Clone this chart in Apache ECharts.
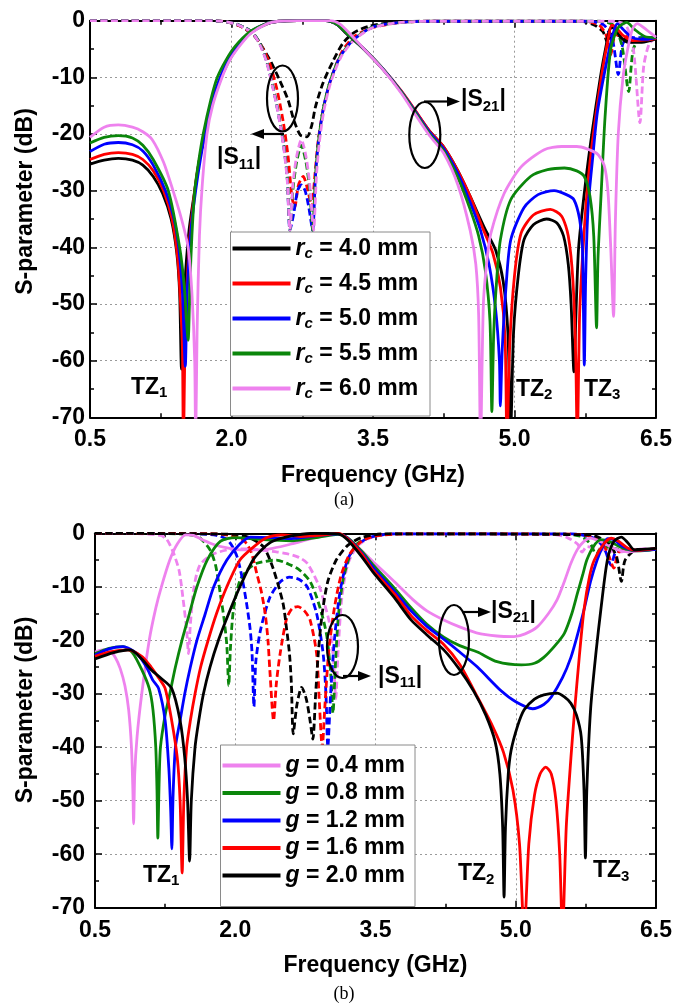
<!DOCTYPE html>
<html><head><meta charset="utf-8">
<script src="https://cdn.jsdelivr.net/npm/echarts/dist/echarts.min.js"></script>
<style>html,body{margin:0;padding:0;background:#fff}#c{width:688px;height:1007px}</style>
</head><body><div id="c"></div>
<script>
// ---------------- DATA ----------------
const xTickLabels = ['0.5', '2.0', '3.5', '5.0', '6.5'];
const rcLabels = ['4.0 mm', '4.5 mm', '5.0 mm', '5.5 mm', '6.0 mm'];
const gLabels = ['0.4 mm', '0.8 mm', '1.2 mm', '1.6 mm', '2.0 mm'];

// (a) |S21| for r_c
const s21_rc40 = [[0.5,-25.3],[0.65,-24.6],[0.8,-24.3],[0.95,-24.6],[1.06,-25.5],[1.17,-27.5],[1.27,-30.5],[1.36,-35],[1.42,-41],[1.45,-48],[1.47,-61.5],[1.5,-48],[1.55,-37],[1.61,-30],[1.66,-24.5],[1.72,-20],[1.8,-14.5],[1.88,-10.5],[1.96,-7.5],[2.06,-4.8],[2.2,-2.2],[2.37,-0.6],[2.5,-0.1],[2.7,0],[3.0,0],[3.12,-0.7],[3.22,-2.3],[3.4,-5],[3.6,-8.5],[3.8,-12.5],[3.95,-16],[4.1,-19.5],[4.25,-22.3],[4.4,-26.5],[4.53,-31],[4.68,-36.5],[4.8,-40.5],[4.88,-46],[4.93,-55],[4.96,-72],[4.99,-55],[5.04,-45],[5.1,-38.7],[5.2,-36],[5.34,-35],[5.45,-35.7],[5.52,-38],[5.57,-43],[5.6,-50],[5.63,-62],[5.655,-50],[5.68,-40],[5.75,-29],[5.82,-20],[5.91,-10],[5.97,-4.5],[6.01,-1.5],[6.05,-1.2],[6.12,-2.8],[6.2,-3.8],[6.35,-3.8],[6.5,-3.2]];
const s21_rc45 = [[0.5,-24.5],[0.65,-23.6],[0.8,-23.3],[0.95,-23.6],[1.06,-24.5],[1.17,-26.5],[1.28,-30],[1.37,-35],[1.43,-42],[1.46,-50],[1.48,-58],[1.49,-75],[1.51,-55],[1.55,-40],[1.61,-30],[1.66,-24.5],[1.72,-20],[1.8,-14.2],[1.88,-10.3],[1.96,-7.3],[2.06,-4.6],[2.2,-2.1],[2.37,-0.5],[2.5,-0.1],[2.7,0],[3.0,0],[3.12,-0.7],[3.22,-2.2],[3.4,-4.9],[3.6,-8.4],[3.8,-12.4],[3.95,-15.9],[4.1,-19.5],[4.25,-22.3],[4.4,-26.5],[4.53,-31],[4.66,-36.5],[4.77,-41],[4.85,-47],[4.9,-56],[4.92,-75],[4.95,-57],[5.0,-45],[5.07,-37.5],[5.2,-34.3],[5.38,-33.3],[5.5,-34.5],[5.57,-38],[5.62,-46],[5.65,-60],[5.665,-75],[5.69,-52],[5.72,-42],[5.76,-32],[5.8,-25],[5.86,-17],[5.93,-9],[5.99,-3.5],[6.03,-0.8],[6.08,-1.3],[6.15,-2.6],[6.25,-3.5],[6.4,-3.4],[6.5,-3.1]];
const s21_rc50 = [[0.5,-23.1],[0.65,-21.8],[0.8,-21.5],[0.95,-21.9],[1.06,-23],[1.17,-25.5],[1.3,-30],[1.39,-35],[1.44,-40],[1.48,-48],[1.51,-61],[1.53,-48],[1.57,-37],[1.62,-30],[1.67,-24.5],[1.72,-20],[1.8,-14],[1.88,-10],[1.96,-7.2],[2.06,-4.6],[2.2,-2],[2.37,-0.5],[2.5,-0.1],[2.7,0],[3.0,0],[3.12,-0.7],[3.22,-2.2],[3.4,-4.9],[3.6,-8.4],[3.8,-12.5],[3.95,-16.1],[4.1,-19.7],[4.25,-22.6],[4.4,-27],[4.53,-32.1],[4.64,-37],[4.73,-43],[4.8,-51],[4.84,-60],[4.85,-68],[4.87,-58],[4.91,-47],[4.96,-38.7],[5.1,-33],[5.25,-30.7],[5.42,-30],[5.55,-30.7],[5.63,-31.6],[5.69,-35],[5.72,-40],[5.74,-60.8],[5.755,-45],[5.78,-33],[5.83,-24],[5.88,-16],[5.98,-7],[6.05,-2],[6.09,-0.5],[6.15,-1.5],[6.25,-3],[6.4,-3.3],[6.5,-3]];
const s21_rc55 = [[0.5,-21.6],[0.65,-20.6],[0.8,-20.3],[0.95,-20.7],[1.06,-22],[1.17,-24.5],[1.33,-30],[1.45,-40],[1.5,-47],[1.54,-56.4],[1.56,-46],[1.58,-38],[1.61,-30],[1.65,-25],[1.7,-20],[1.78,-14],[1.85,-10],[1.94,-7],[2.04,-4.5],[2.2,-1.9],[2.37,-0.5],[2.5,-0.1],[2.7,0],[3.0,0],[3.12,-0.7],[3.22,-2.2],[3.4,-4.9],[3.6,-8.4],[3.8,-12.6],[3.95,-16.3],[4.1,-20],[4.25,-23],[4.4,-27.7],[4.53,-33.3],[4.62,-38],[4.69,-44],[4.74,-53],[4.76,-69],[4.78,-55],[4.81,-46],[4.85,-38.7],[4.96,-31.6],[5.17,-27.5],[5.35,-26.3],[5.53,-26],[5.66,-26.5],[5.74,-27.5],[5.8,-31],[5.84,-38],[5.87,-54.2],[5.885,-42],[5.92,-30],[5.96,-17],[6.02,-5],[6.1,-1.2],[6.19,-0.3],[6.27,-1.5],[6.38,-2.8],[6.5,-3]];
const s21_rc60 = [[0.5,-20.6],[0.65,-18.8],[0.8,-18.4],[0.95,-18.8],[1.06,-19.6],[1.16,-21],[1.28,-25],[1.38,-30],[1.47,-35],[1.54,-40],[1.58,-48],[1.61,-60],[1.62,-75],[1.635,-55],[1.66,-38],[1.69,-29],[1.74,-20],[1.8,-15],[1.9,-10],[1.98,-7],[2.08,-4.6],[2.2,-2.3],[2.37,-0.6],[2.5,-0.1],[2.7,0],[3.05,0],[3.15,-0.6],[3.25,-2.2],[3.4,-4.9],[3.6,-8.5],[3.8,-12.8],[3.95,-16.6],[4.1,-20.3],[4.25,-23.4],[4.4,-29],[4.53,-37],[4.59,-43],[4.62,-52],[4.64,-75],[4.67,-50],[4.71,-42],[4.75,-37.5],[4.89,-30.5],[5.07,-25.8],[5.31,-22.8],[5.5,-22.2],[5.66,-22.2],[5.87,-23.4],[5.95,-25.5],[5.99,-30],[6.02,-40],[6.05,-52.2],[6.07,-35],[6.1,-20],[6.15,-10],[6.2,-5],[6.25,-1.5],[6.3,-0.5],[6.4,-1.6],[6.5,-2.9]];

// (a) |S11| for r_c
const s11_rc40 = [[0.5,0],[1.8,0],[1.95,-0.2],[2.1,-1],[2.23,-2.5],[2.3,-4],[2.41,-7],[2.51,-10.5],[2.6,-14],[2.66,-17.5],[2.73,-20.2],[2.8,-20.5],[2.85,-18.5],[2.89,-15.2],[2.97,-11],[3.08,-7],[3.18,-4],[3.29,-2.2],[3.45,-1],[3.7,-0.3],[4.0,-0.1],[5.7,-0.1],[5.85,-0.8],[5.94,-2],[5.99,-4],[6.04,-2],[6.12,-2.8],[6.25,-3.6],[6.5,-3.2]];
const s11_rc45 = [[0.5,0],[1.8,0],[1.95,-0.2],[2.1,-1],[2.23,-2.4],[2.3,-3.9],[2.4,-7.3],[2.48,-12],[2.55,-18],[2.6,-24],[2.64,-31],[2.67,-33],[2.71,-29],[2.76,-27.5],[2.81,-30],[2.85,-33],[2.88,-28],[2.92,-21],[2.98,-15],[3.06,-10],[3.17,-5.5],[3.3,-2.8],[3.5,-1.2],[3.8,-0.3],[4.1,-0.1],[5.75,-0.1],[5.9,-0.8],[5.97,-2.5],[6.02,-6],[6.07,-2.5],[6.15,-2.6],[6.3,-3.4],[6.5,-3.1]];
const s11_rc50 = [[0.5,0],[1.8,0],[1.9,-0.1],[2.05,-0.6],[2.15,-1.3],[2.23,-2.2],[2.3,-4],[2.37,-7],[2.44,-11.7],[2.49,-15.8],[2.55,-21.6],[2.59,-27.5],[2.62,-37],[2.66,-34],[2.7,-30],[2.74,-29],[2.78,-30],[2.82,-33],[2.86,-37],[2.89,-27.5],[2.92,-21.6],[2.97,-15.8],[3.04,-11],[3.15,-6.4],[3.29,-3.4],[3.5,-1.1],[3.8,-0.3],[4.1,-0.1],[5.8,-0.1],[5.95,-0.8],[6.04,-3.5],[6.1,-9.5],[6.15,-4],[6.25,-3],[6.5,-3]];
const s11_rc55 = [[0.5,0],[1.8,0],[1.9,-0.1],[2.05,-0.6],[2.15,-1.3],[2.23,-2.2],[2.3,-4],[2.37,-7],[2.44,-11.7],[2.49,-15.8],[2.55,-21.6],[2.59,-27.5],[2.62,-37],[2.65,-30],[2.69,-25],[2.74,-22],[2.79,-25],[2.83,-30],[2.86,-37],[2.89,-27.5],[2.92,-21.6],[2.97,-15.8],[3.04,-11],[3.15,-6.4],[3.29,-3.4],[3.5,-1.1],[3.8,-0.3],[4.1,-0.1],[5.9,-0.1],[6.05,-0.8],[6.14,-4.5],[6.21,-12.5],[6.26,-5],[6.35,-3],[6.5,-3]];
const s11_rc60 = [[0.5,0],[1.8,0],[1.9,-0.1],[2.05,-0.6],[2.15,-1.4],[2.23,-2.3],[2.3,-4.2],[2.37,-7.2],[2.44,-12],[2.49,-16],[2.55,-22],[2.59,-28],[2.62,-37],[2.65,-29],[2.69,-24],[2.74,-21],[2.79,-24],[2.83,-29],[2.87,-37],[2.9,-27.5],[2.93,-21.6],[2.98,-15.8],[3.05,-11],[3.16,-6.4],[3.3,-3.4],[3.5,-1.2],[3.8,-0.3],[4.1,-0.1],[6.05,-0.1],[6.18,-0.8],[6.26,-5],[6.33,-18],[6.37,-8],[6.43,-4],[6.5,-3]];

// (b) |S21| for g
const s21_g04 = [[0.5,-22.2],[0.58,-21.8],[0.66,-22],[0.72,-23.3],[0.77,-25.3],[0.82,-28.5],[0.86,-33],[0.89,-40],[0.905,-48],[0.913,-54.3],[0.925,-45],[0.95,-38],[1.0,-30],[1.08,-20],[1.15,-14],[1.21,-10],[1.3,-5],[1.38,-2],[1.47,-0.3],[1.55,-0.4],[1.65,-1.2],[1.77,-2.1],[1.9,-2.7],[2.05,-3.1],[2.25,-3.1],[2.4,-2.8],[2.6,-2],[2.83,-0.9],[3.0,-0.3],[3.12,-0.2],[3.22,-1.2],[3.35,-3.2],[3.48,-5.4],[3.7,-9],[3.9,-12.4],[4.05,-14.5],[4.23,-16.2],[4.4,-17.5],[4.58,-18.6],[4.8,-19.2],[4.98,-19.3],[5.1,-18.8],[5.23,-17.5],[5.35,-15],[5.44,-12.5],[5.52,-9],[5.59,-5.6],[5.66,-3],[5.73,-1.5],[5.8,-0.9],[5.9,-1.5],[6.05,-2.8],[6.2,-3.5],[6.35,-3.2],[6.5,-2.9]];
const s21_g08 = [[0.5,-22.5],[0.65,-21.5],[0.8,-21.2],[0.9,-22.3],[1.0,-25.5],[1.08,-29],[1.12,-33],[1.15,-40],[1.163,-48],[1.172,-57],[1.185,-47],[1.2,-40],[1.25,-34],[1.3,-30],[1.36,-25],[1.43,-20],[1.51,-15],[1.59,-10],[1.7,-5],[1.84,-1.5],[2.0,-0.8],[2.3,-1.2],[2.6,-1.4],[2.9,-0.7],[3.1,-0.2],[3.2,-0.8],[3.35,-3.3],[3.48,-6],[3.7,-10.2],[3.88,-13.9],[4.05,-17],[4.23,-19.4],[4.4,-21],[4.59,-22.2],[4.8,-24],[5.06,-24.6],[5.2,-24.3],[5.3,-23.2],[5.42,-21],[5.52,-18.7],[5.6,-15],[5.66,-11.2],[5.72,-7.5],[5.76,-5],[5.83,-2.5],[5.91,-1.2],[6.0,-1.5],[6.15,-2.8],[6.3,-3.3],[6.5,-3]];
const s21_g12 = [[0.5,-22.8],[0.65,-21.6],[0.8,-21.2],[0.95,-22.5],[1.05,-25],[1.12,-27.5],[1.18,-29],[1.25,-35],[1.29,-44],[1.31,-52],[1.322,-59],[1.335,-49],[1.36,-40],[1.41,-35],[1.46,-30],[1.52,-25],[1.59,-20],[1.68,-15],[1.77,-10],[1.91,-5],[2.05,-2],[2.16,-0.7],[2.4,-0.8],[2.6,-1],[2.85,-0.5],[3.1,-0.1],[3.2,-0.9],[3.35,-3.6],[3.48,-6.5],[3.7,-10.8],[3.88,-14.5],[4.05,-17.4],[4.23,-19.8],[4.4,-22.2],[4.59,-25],[4.84,-29.4],[5.0,-31.5],[5.18,-32.8],[5.3,-32],[5.38,-30.6],[5.5,-27],[5.59,-23.2],[5.66,-19],[5.73,-14.3],[5.8,-9],[5.87,-5],[5.93,-2.5],[5.98,-1],[6.05,-1.2],[6.15,-2.5],[6.3,-3.2],[6.5,-3]];
const s21_g16 = [[0.5,-23],[0.65,-22.2],[0.85,-21.8],[1.0,-23],[1.1,-25],[1.18,-27],[1.25,-29],[1.32,-35],[1.38,-42],[1.41,-50],[1.432,-63.5],[1.45,-50],[1.48,-40],[1.52,-35],[1.57,-30],[1.63,-25],[1.71,-20],[1.8,-15],[1.91,-10],[2.05,-5],[2.2,-2.5],[2.34,-0.8],[2.5,-0.3],[2.7,-0.6],[2.9,-0.4],[3.1,0],[3.2,-1],[3.35,-3.8],[3.48,-7],[3.7,-11.3],[3.88,-15.4],[4.05,-18.2],[4.23,-20.8],[4.4,-24.5],[4.59,-30.6],[4.75,-36],[4.87,-41],[4.97,-48],[5.04,-58],[5.09,-75],[5.14,-58],[5.2,-49],[5.26,-45],[5.32,-43.7],[5.38,-45],[5.43,-50],[5.47,-60],[5.5,-75],[5.54,-55],[5.59,-42],[5.63,-33],[5.68,-23],[5.73,-14.3],[5.79,-8],[5.84,-5],[5.94,-2],[6.02,-0.9],[6.1,-1.5],[6.2,-2.8],[6.3,-3.2],[6.5,-2.8]];
const s21_g20 = [[0.5,-23.5],[0.7,-22.3],[0.88,-21.8],[1.0,-23.5],[1.1,-25.5],[1.2,-27],[1.32,-29],[1.41,-35],[1.46,-42],[1.49,-50],[1.512,-61.3],[1.53,-50],[1.57,-40],[1.61,-35],[1.66,-30],[1.73,-25],[1.82,-20],[1.93,-15],[2.05,-10],[2.19,-5],[2.3,-2.8],[2.4,-1.5],[2.6,-0.5],[2.85,0],[3.1,-0.1],[3.2,-1.2],[3.35,-4.3],[3.48,-7.4],[3.7,-12],[3.88,-16.2],[4.05,-19],[4.23,-21.8],[4.4,-25.5],[4.55,-29.5],[4.68,-34],[4.78,-39],[4.83,-45],[4.86,-55],[4.875,-68],[4.89,-55],[4.92,-45],[4.95,-40.6],[5.02,-36],[5.09,-33],[5.2,-31],[5.3,-30.2],[5.44,-29.9],[5.52,-30.6],[5.59,-31.8],[5.65,-34],[5.7,-38],[5.73,-48],[5.745,-60.7],[5.76,-48],[5.8,-33],[5.86,-22],[5.91,-14.3],[5.98,-5],[6.05,-1.5],[6.13,-0.7],[6.2,-1.8],[6.27,-3.1],[6.35,-3],[6.5,-2.8]];

// (b) |S11| for g
const s11_g04 = [[0.5,0],[1.0,-0.1],[1.2,-0.4],[1.27,-1.2],[1.34,-3.7],[1.4,-7],[1.44,-12],[1.48,-18],[1.5,-22.5],[1.52,-17],[1.56,-10],[1.62,-6],[1.75,-4],[1.95,-3],[2.15,-2.9],[2.3,-3.2],[2.45,-3.5],[2.55,-3.8],[2.68,-4.5],[2.77,-5.6],[2.9,-10],[2.96,-13.5],[3.01,-17],[3.05,-23.5],[3.075,-31],[3.1,-22],[3.14,-12],[3.2,-6],[3.3,-2.5],[3.45,-0.8],[3.7,-0.1],[5.4,-0.2],[5.55,-0.8],[5.66,-2],[5.71,-3.5],[5.76,-2.5],[5.9,-3],[6.1,-3.5],[6.3,-3],[6.5,-2.8]];
const s11_g08 = [[0.5,0],[1.4,-0.1],[1.55,-0.4],[1.62,-0.8],[1.73,-3.1],[1.79,-6],[1.84,-11.3],[1.88,-16],[1.91,-21],[1.93,-28.5],[1.95,-21],[1.98,-14.4],[2.05,-8.8],[2.15,-6.5],[2.23,-5.6],[2.44,-5],[2.6,-6],[2.69,-6.9],[2.8,-9],[2.87,-11.9],[2.94,-16],[2.98,-19.3],[3.02,-26],[3.045,-33.6],[3.07,-25],[3.1,-16],[3.15,-9],[3.22,-4.5],[3.3,-2],[3.45,-0.6],[3.7,-0.1],[5.5,-0.1],[5.7,-0.6],[5.8,-2],[5.86,-4],[5.92,-2.5],[6.05,-2.8],[6.2,-3.3],[6.5,-3]];
const s11_g12 = [[0.5,0],[1.6,-0.1],[1.8,-0.4],[1.9,-1],[1.96,-2.2],[2.02,-4.4],[2.07,-8],[2.12,-13],[2.16,-18],[2.18,-22.5],[2.2,-32.4],[2.22,-24],[2.27,-18.1],[2.37,-12],[2.48,-9.1],[2.58,-8.2],[2.68,-8.6],[2.77,-10],[2.87,-15],[2.94,-22.5],[2.97,-30],[2.99,-40],[3.02,-30],[3.06,-20],[3.12,-11],[3.2,-5],[3.3,-2.2],[3.45,-0.7],[3.7,-0.1],[5.6,-0.1],[5.85,-1],[5.95,-3],[6.02,-6],[6.07,-3.5],[6.2,-3],[6.5,-3]];
const s11_g16 = [[0.5,0],[1.8,-0.1],[2.0,-0.6],[2.1,-1.5],[2.17,-3.5],[2.23,-7.5],[2.28,-11],[2.32,-15],[2.35,-20],[2.37,-25.6],[2.41,-35],[2.44,-28],[2.48,-22.5],[2.55,-15.9],[2.61,-14],[2.67,-13.7],[2.74,-14.5],[2.8,-16.2],[2.87,-22.5],[2.9,-31.8],[2.93,-40],[2.96,-32],[3.0,-22],[3.06,-14],[3.13,-8],[3.22,-4],[3.35,-1.5],[3.5,-0.5],[3.8,-0.1],[5.7,-0.2],[5.9,-1.5],[5.98,-3.5],[6.05,-6.5],[6.1,-3.5],[6.2,-3],[6.5,-3]];
const s11_g20 = [[0.5,0],[2.0,-0.2],[2.15,-0.8],[2.3,-2.5],[2.4,-6.3],[2.51,-13],[2.55,-18],[2.58,-22.5],[2.6,-28],[2.62,-37.5],[2.66,-32],[2.71,-28.8],[2.76,-31],[2.8,-35],[2.83,-38.5],[2.86,-30],[2.89,-22],[2.93,-15],[2.99,-9],[3.08,-5],[3.2,-2.3],[3.35,-0.8],[3.6,-0.1],[5.8,-0.3],[6.0,-2],[6.08,-4.5],[6.13,-9],[6.17,-5],[6.3,-3],[6.5,-3]];

// ---------------- CHART ----------------
const FONT = '"Liberation Sans", Arial, Helvetica, sans-serif';
const BLACK = '#000000', RED = '#ff0000', BLUE = '#0000ff', GREEN = '#0b860b', VIOLET = '#ee82ee';
const chart = echarts.init(document.getElementById('c'), null, {renderer: 'canvas'});

const s21A = [s21_rc40, s21_rc45, s21_rc50, s21_rc55, s21_rc60];
const s11A = [s11_rc40, s11_rc45, s11_rc50, s11_rc55, s11_rc60];
const colA = [BLACK, RED, BLUE, GREEN, VIOLET];
const s21B = [s21_g04, s21_g08, s21_g12, s21_g16, s21_g20];
const s11B = [s11_g04, s11_g08, s11_g12, s11_g16, s11_g20];
const colB = [VIOLET, GREEN, BLUE, RED, BLACK];

function line(name, data, color, dashed, ax) {
  return {
    type: 'line', name, data, xAxisIndex: ax, yAxisIndex: ax,
    showSymbol: false, symbol: 'none', smooth: 0.25,
    lineStyle: {color, width: 2.8, type: dashed ? [7, 3.5] : 'solid'},
    itemStyle: {color}, emphasis: {disabled: true}, silent: true, z: 2
  };
}
const series = [];
const namesA = rcLabels.map(l => 'rc ' + l);
const namesB = gLabels.map(l => 'g ' + l);
for (let i = 0; i < 5; i++) series.push(line('S11a' + i, s11A[i], colA[i], true, 0));
for (let i = 0; i < 5; i++) series.push(line(namesA[i], s21A[i], colA[i], false, 0));
for (let i = 0; i < 5; i++) series.push(line('S11b' + i, s11B[i], colB[i], true, 2));
for (let i = 0; i < 5; i++) series.push(line(namesB[i], s21B[i], colB[i], false, 2));

const tickLine = {color: '#000', width: 1.5};
function xAx(grid, main, margin, gap) {
  return {
    type: 'value', gridIndex: grid, min: 0.5, max: 6.5, interval: 1.5,
    position: main ? 'bottom' : 'top',
    axisLine: {show: true, onZero: false, lineStyle: {color: '#000', width: 2}},
    axisTick: {show: true, inside: true, length: 7, lineStyle: tickLine},
    minorTick: {show: true, splitNumber: 2, length: 4, lineStyle: tickLine},
    splitLine: {show: main, lineStyle: {color: '#9a9a9a', width: 1, type: [2, 3]}},
    axisLabel: {show: main, margin, color: '#000', fontSize: 23, fontWeight: 'bold', fontFamily: FONT,
      formatter: v => xTickLabels[Math.round((v - 0.5) / 1.5)]},
    name: main ? 'Frequency (GHz)' : '', nameLocation: 'middle', nameGap: gap,
    nameTextStyle: {color: '#000', fontSize: 23, fontWeight: 'bold', fontFamily: FONT}
  };
}
function yAx(grid, main, margin) {
  return {
    type: 'value', gridIndex: grid, min: -70, max: 0, interval: 10,
    position: main ? 'left' : 'right',
    axisLine: {show: true, onZero: false, lineStyle: {color: '#000', width: 2}},
    axisTick: {show: true, inside: true, length: 7, lineStyle: tickLine},
    minorTick: {show: true, splitNumber: 2, length: 4, lineStyle: tickLine},
    splitLine: {show: main, lineStyle: {color: '#9a9a9a', width: 1, type: [2, 3]}},
    axisLabel: {show: main, margin, align: 'right', color: '#000', fontSize: 23, fontWeight: 'bold', fontFamily: FONT}
  };
}

const legRich = {
  i: {fontStyle: 'italic', fontWeight: 'bold', fontSize: 23, fontFamily: FONT, lineHeight: 26, color: '#000'},
  s: {fontStyle: 'italic', fontWeight: 'bold', fontSize: 15, fontFamily: FONT, lineHeight: 12, verticalAlign: 'bottom', color: '#000'},
  t: {fontWeight: 'bold', fontSize: 23, fontFamily: FONT, lineHeight: 26, color: '#000'}
};
function legend(names, left, top, gap, fmt) {
  return {
    orient: 'vertical', left, top, padding: 0, itemGap: gap, itemWidth: 58, itemHeight: 4,
    icon: 'rect', data: names, selectedMode: false, z: 4,
    textStyle: {color: '#000', fontFamily: FONT, fontWeight: 'bold', fontSize: 23, rich: legRich},
    formatter: fmt
  };
}

const labRich = {
  b: {fontWeight: 'bold', fontSize: 23, fontFamily: FONT, lineHeight: 28, fill: '#000'},
  s: {fontWeight: 'bold', fontSize: 15, fontFamily: FONT, lineHeight: 14, verticalAlign: 'bottom', fill: '#000'}
};
const tzRich = {
  b: {fontWeight: 'bold', fontSize: 23, fontFamily: FONT, lineHeight: 26, fill: '#000'},
  s: {fontWeight: 'bold', fontSize: 15, fontFamily: FONT, lineHeight: 12, verticalAlign: 'bottom', fill: '#000'}
};
function txt(x, y, text, rich) {
  return {type: 'text', x, y, z: 6, silent: true,
    style: {text, rich, align: 'left', verticalAlign: 'middle', fill: '#000'}};
}
function ell(cx, cy, rx, ry) {
  return {type: 'ellipse', z: 6, silent: true, shape: {cx, cy, rx, ry},
    style: {fill: 'none', stroke: '#000', lineWidth: 2.2}};
}
function arrow(x1, y, x2) {
  const dir = x2 > x1 ? 1 : -1;
  return [
    {type: 'line', z: 6, silent: true, shape: {x1, y1: y, x2: x2 - dir * 10, y2: y}, style: {stroke: '#000', lineWidth: 2.2}},
    {type: 'polygon', z: 6, silent: true, shape: {points: [[x2, y], [x2 - dir * 13, y - 5], [x2 - dir * 13, y + 5]]}, style: {fill: '#000'}}
  ];
}

const graphic = [
  {type: 'rect', z: 3, silent: true, shape: {x: 230.5, y: 232, width: 199.5, height: 184}, style: {fill: '#fff', stroke: '#8a8a8a', lineWidth: 1}},
  {type: 'rect', z: 3, silent: true, shape: {x: 220.5, y: 745, width: 194.5, height: 161.5}, style: {fill: '#fff', stroke: '#8a8a8a', lineWidth: 1}},
  {type: 'text', x: 25.5, y: 201.5, rotation: Math.PI / 2, z: 6, silent: true,
    style: {text: 'S-parameter (dB)', font: 'bold 23px ' + FONT, align: 'center', verticalAlign: 'middle', fill: '#000'}},
  {type: 'text', x: 25.5, y: 710, rotation: Math.PI / 2, z: 6, silent: true,
    style: {text: 'S-parameter (dB)', font: 'bold 23px ' + FONT, align: 'center', verticalAlign: 'middle', fill: '#000'}},
  {type: 'text', x: 344, y: 500, z: 6, silent: true,
    style: {text: '(a)', font: '18px "Liberation Serif", "Times New Roman", serif', align: 'center', verticalAlign: 'middle', fill: '#000'}},
  {type: 'text', x: 344, y: 994, z: 6, silent: true,
    style: {text: '(b)', font: '18px "Liberation Serif", "Times New Roman", serif', align: 'center', verticalAlign: 'middle', fill: '#000'}},
  txt(131, 387.5, '{b|TZ}{s|1}', tzRich),
  txt(516, 389.5, '{b|TZ}{s|2}', tzRich),
  txt(584, 389.5, '{b|TZ}{s|3}', tzRich),
  txt(143, 875.5, '{b|TZ}{s|1}', tzRich),
  txt(458, 874, '{b|TZ}{s|2}', tzRich),
  txt(593, 871, '{b|TZ}{s|3}', tzRich),
  txt(217, 158, '{b||S}{s|11}{b||}', labRich),
  txt(461, 100, '{b||S}{s|21}{b||}', labRich),
  txt(378, 676.5, '{b||S}{s|11}{b||}', labRich),
  txt(491, 611.5, '{b||S}{s|21}{b||}', labRich),
  ell(282.5, 98.5, 15.5, 33),
  ell(424.8, 135, 15.5, 33),
  ell(342.5, 646.5, 15.5, 31.5),
  ell(454, 640, 15, 35),
  ...arrow(284, 134, 251),
  ...arrow(424, 101.5, 460),
  ...arrow(343, 676, 371),
  ...arrow(462, 612, 491)
];

chart.setOption({
  animation: false,
  backgroundColor: '#fff',
  grid: [
    {left: 90, top: 20.7, width: 566, height: 396.6, outerBoundsMode: 'none', containLabel: false},
    {left: 95, top: 533.3, width: 561, height: 374.4, outerBoundsMode: 'none', containLabel: false}
  ],
  xAxis: [xAx(0, true, 11, 47), xAx(0, false, 0, 0), xAx(1, true, 11, 46), xAx(1, false, 0, 0)],
  yAxis: [yAx(0, true, 5), yAx(0, false, 0), yAx(1, true, 10), yAx(1, false, 0)],
  legend: [
    legend(namesA, 232.5, 237, 10.5, n => '{i|r}{s|c}{t| = ' + n.slice(3) + '}'),
    legend(namesB, 222.5, 754, 4.5, n => '{i|g}{t| = ' + n.slice(2) + '}')
  ],
  series,
  graphic
});
</script></body></html>
